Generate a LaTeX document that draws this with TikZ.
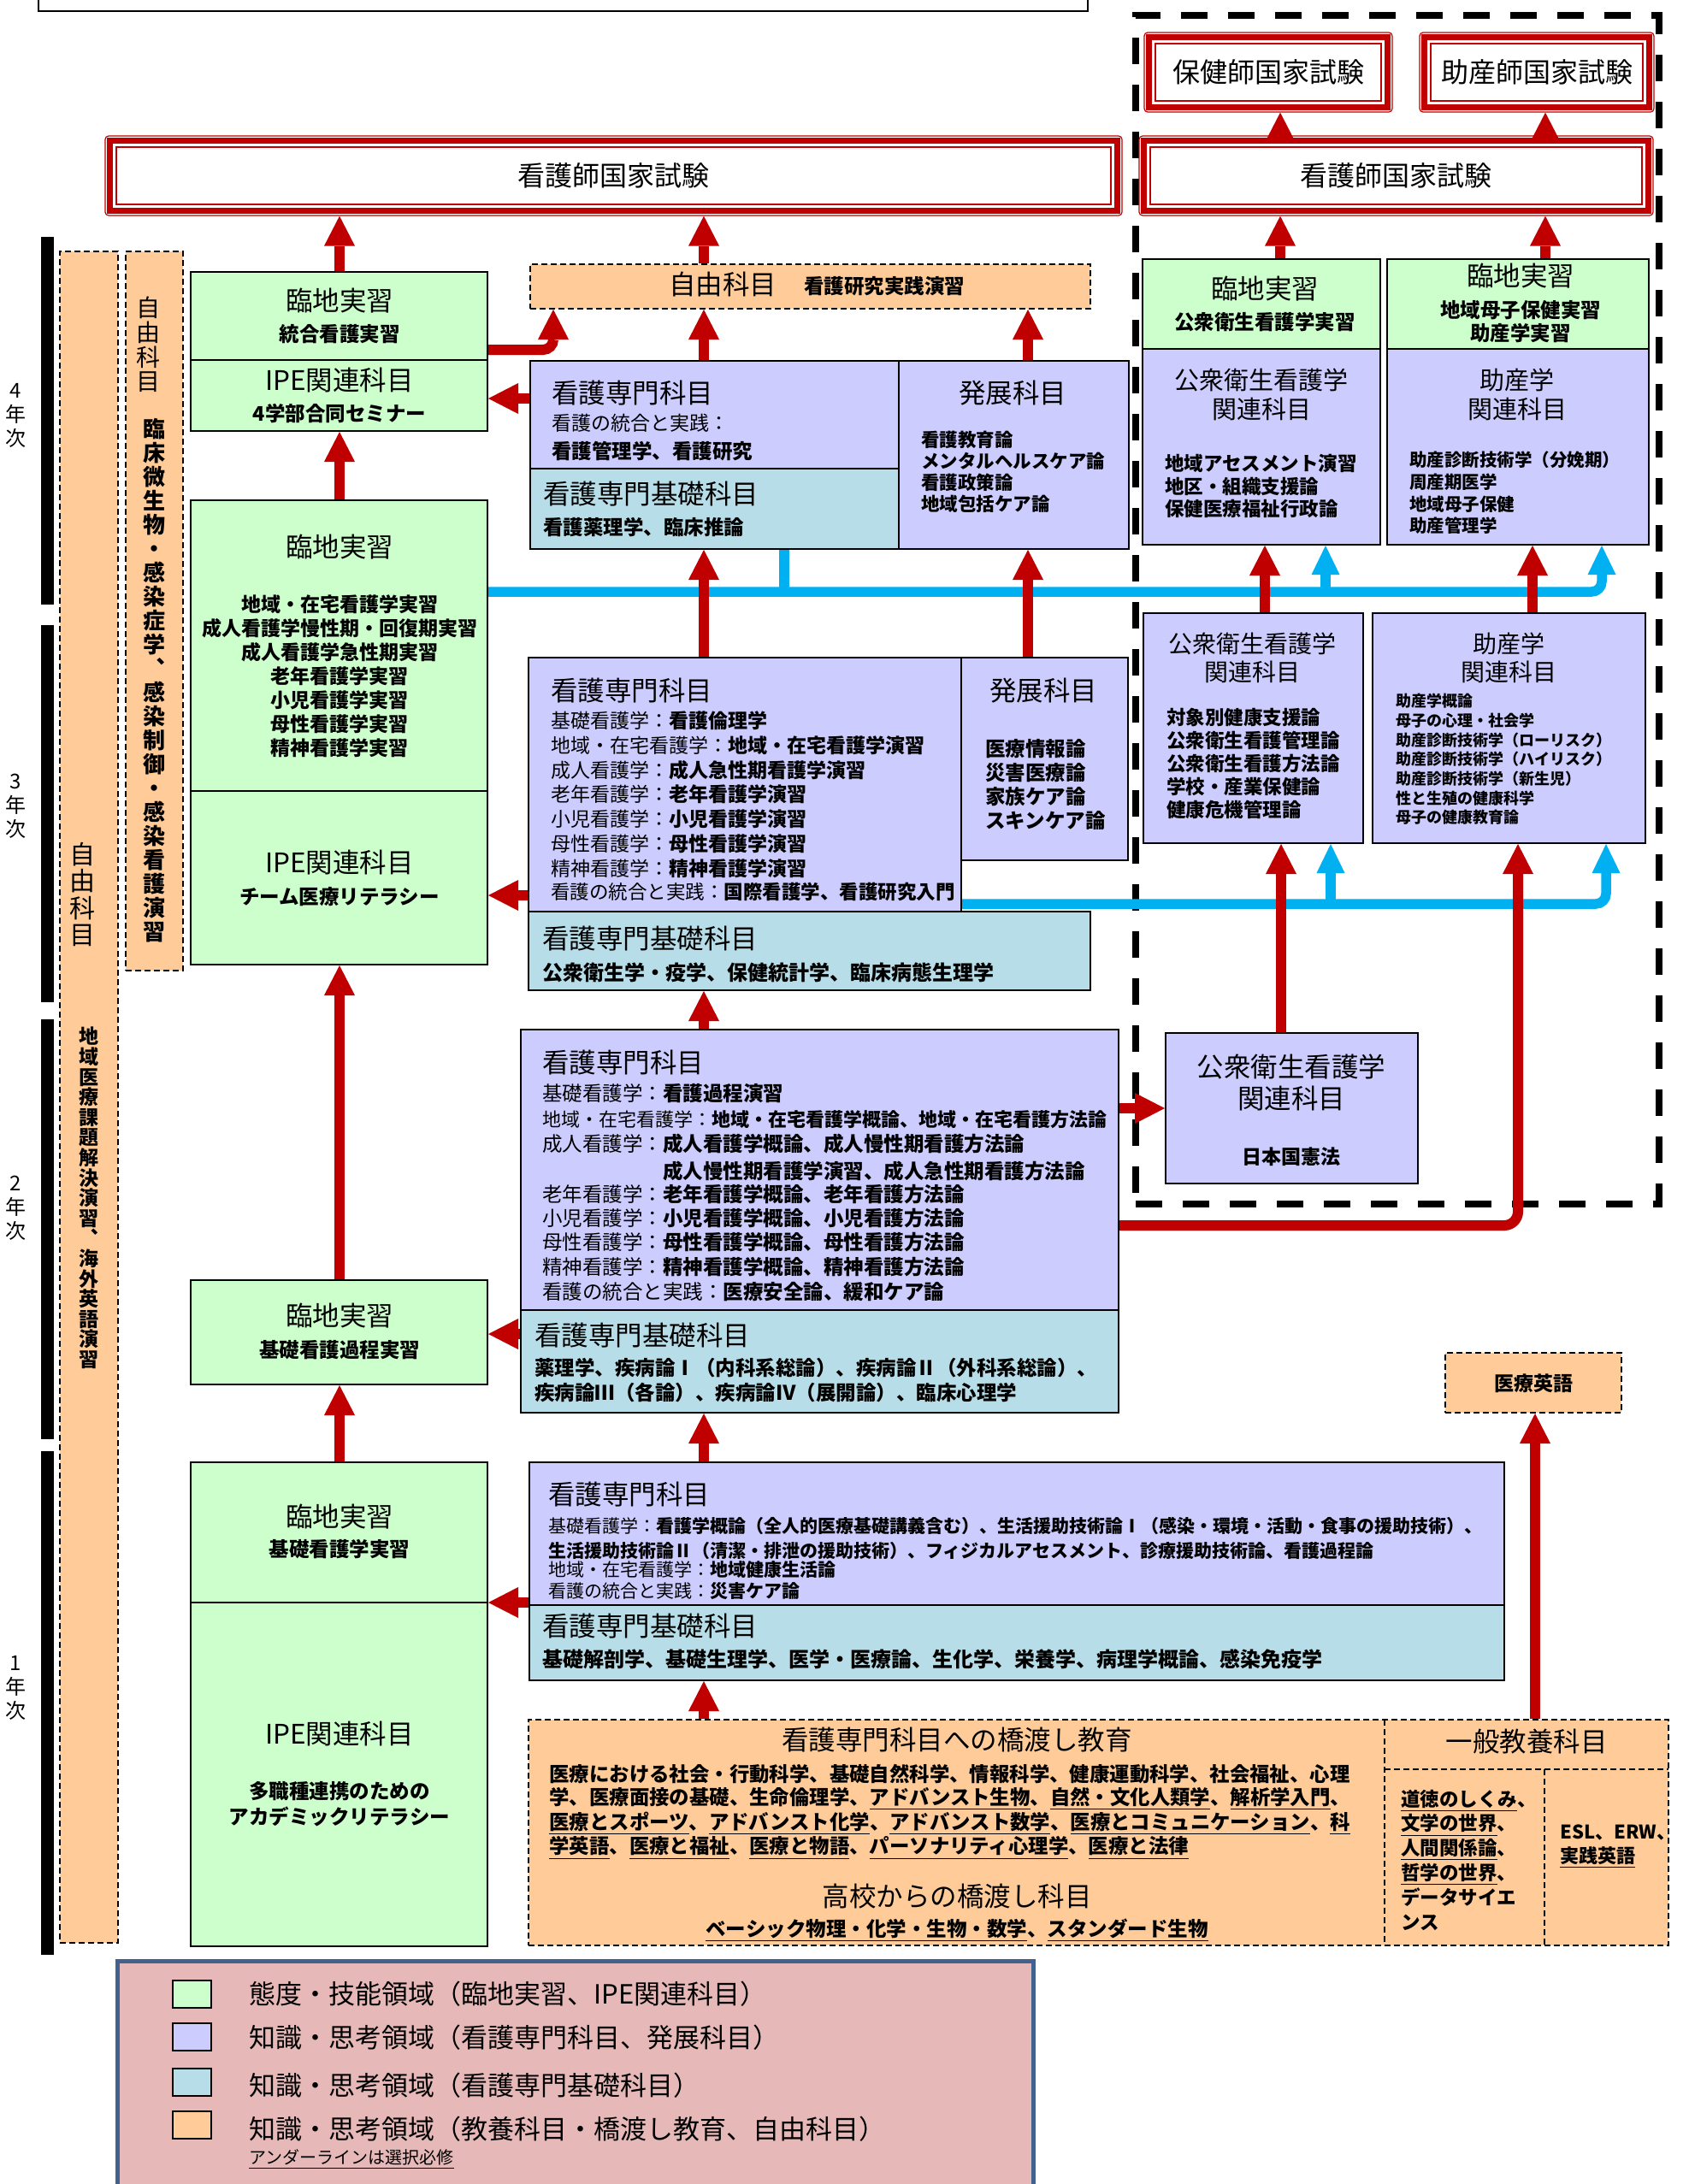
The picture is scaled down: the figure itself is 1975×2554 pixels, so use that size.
\documentclass[tikz,border=0pt]{standalone}
\usepackage{fontspec}
\setmainfont{Noto Sans CJK JP}
\usetikzlibrary{arrows.meta,calc,fit}
\definecolor{cgreen}{HTML}{CCFFCC}
\definecolor{cpurple}{HTML}{CCCCFF}
\definecolor{cteal}{HTML}{B7DEE8}
\definecolor{corange}{HTML}{FFCC99}
\definecolor{cred}{HTML}{C00000}
\definecolor{cblue}{HTML}{00B0F0}
\definecolor{clegbg}{HTML}{E6B9B8}
\definecolor{clegbd}{HTML}{41628F}
\newcommand\fsz[2]{\fontsize{#1}{#2}\selectfont\lineskiplimit=-100pt\relax}
\newcommand\ul[1]{\underline{#1}}
\newcommand\examBox[6]{%
 \node[fit={(#2,#3)(#4,#5)},inner sep=0pt,draw=cred,line width=0.6pt,rounded corners=2pt,fill=white] (#1) {};
 \draw[cred,line width=3.75pt] ($(#1.north west)+(6.25,6.25)$) rectangle ($(#1.south east)+(-6.25,-6.25)$);
 \draw[cred,line width=1pt] ($(#1.north west)+(14,14)$) rectangle ($(#1.south east)+(-14,-14)$);
 \node[exm] (#1t) at (#1.center) {#6};}
\begin{document}
\begin{tikzpicture}[x=0.5pt,y=-0.5pt,
 cbox/.style={draw=black,line width=1pt,inner sep=0pt},
 gbox/.style={cbox,fill=cgreen},
 pbox/.style={cbox,fill=cpurple},
 tbox/.style={cbox,fill=cteal},
 obox/.style={draw=black,line width=1pt,dash pattern=on 3.5pt off 2pt,fill=corange,inner sep=0pt},
 dshl/.style={draw=black,line width=1pt,dash pattern=on 3.5pt off 2pt},
 txt/.style={inner sep=0pt,text=black},
 hdg/.style={txt,font=\fsz{15.75}{18}},
 hdg2/.style={txt,font=\fsz{14.5}{17},align=center},
 exm/.style={txt,font=\fsz{16}{18}},
 sbt/.style={txt,font=\fsz{11.75}{14}\bfseries},
 itm/.style={txt,font=\fsz{11.5}{14},anchor=west},
 lst/.style={txt,anchor=west,align=left},
 rarr/.style={draw=cred,line width=6pt,-{Triangle[length=17.5pt,width=18pt,line width=0pt]}},
 barr/.style={draw=cblue,line width=5.75pt,-{Triangle[length=17pt,width=16.5pt,line width=0pt]}},
 bln/.style={draw=cblue,line width=5.75pt}
]
\useasboundingbox (0,0) rectangle (1975,2554);
\fill[white] (0,0) rectangle (1975,2554);

% top box
\node[draw=black,line width=1pt,fill=white,fit={(45,-30)(1272,13)},inner sep=0pt] (topbox) {};

% dashed zone
\node[draw=black,line width=3.75pt,dash pattern=on 15.5pt off 12pt,fit={(1328,18)(1940,1408)},inner sep=0pt] (dz) {};

% exams
\examBox{e1}{123}{159}{1312}{252}{看護師国家試験}
\examBox{e2}{1332}{159}{1933}{252}{看護師国家試験}
\examBox{e3}{1338}{38}{1628}{131}{保健師国家試験}
\examBox{e4}{1660}{38}{1934}{131}{助産師国家試験}

% year bars
\node[fill=black,fit={(48,277)(63,707)},inner sep=0pt] (y4bar) {};
\node[fill=black,fit={(48,731)(63,1172)},inner sep=0pt] (y3bar) {};
\node[fill=black,fit={(48,1192)(63,1683)},inner sep=0pt] (y2bar) {};
\node[fill=black,fit={(48,1697)(63,2286)},inner sep=0pt] (y1bar) {};
\node[txt,font=\fsz{12}{14},align=center] (y4) at (18,486) {4\\年\\次};
\node[txt,font=\fsz{12}{14},align=center] (y3) at (18,943) {3\\年\\次};
\node[txt,font=\fsz{12}{14},align=center] (y2) at (18,1413) {2\\年\\次};
\node[txt,font=\fsz{12}{14},align=center] (y1) at (18,1974) {1\\年\\次};

% left dashed columns
\node[obox,fit={(70,294)(138,2272)}] (c1) {};
\node[obox,fit={(147,294)(214,1135)}] (c2) {};
\node[txt,font=\fsz{15}{15.65},align=center] (c1a) at (96,1046) {自\\由\\科\\目};
\node[txt,font=\fsz{11.5}{11.8}\bfseries,align=center] (c1b) at (104,1401) {地\\域\\医\\療\\課\\題\\解\\決\\演\\習\\︑\\海\\外\\英\\語\\演\\習};
\node[txt,font=\fsz{14}{14.35},align=center] (c2a) at (173,403) {自\\由\\科\\目};
\node[txt,font=\fsz{13}{14}\bfseries,align=center] (c2b) at (180,796) {臨\\床\\微\\生\\物\\・\\感\\染\\症\\学\\︑\\感\\染\\制\\御\\・\\感\\染\\看\\護\\演\\習};

% green boxes
\node[gbox,fit={(223,318)(570,421)}] (g4a) {};
\node[gbox,fit={(223,421)(570,504)}] (g4b) {};
\node[gbox,fit={(223,585)(570,925)}] (g3a) {};
\node[gbox,fit={(223,925)(570,1128)}] (g3b) {};
\node[gbox,fit={(223,1497)(570,1619)}] (g2) {};
\node[gbox,fit={(223,1710)(570,1874)}] (g1a) {};
\node[gbox,fit={(223,1874)(570,2276)}] (g1b) {};

% middle boxes
\node[obox,fit={(620,309)(1275,361)}] (f4) {};
\node[pbox,fit={(620,422)(1051,548)}] (k4) {};
\node[tbox,fit={(620,548)(1051,642)}] (b4) {};
\node[pbox,fit={(1051,422)(1320,642)}] (h4) {};
\node[pbox,fit={(618,769)(1124,1066)}] (k3) {};
\node[pbox,fit={(1124,769)(1319,1006)}] (h3) {};
\node[tbox,fit={(618,1066)(1275,1158)}] (b3) {};
\node[pbox,fit={(609,1204)(1308,1532)}] (k2) {};
\node[tbox,fit={(609,1532)(1308,1652)}] (b2) {};
\node[pbox,fit={(619,1710)(1759,1877)}] (k1) {};
\node[tbox,fit={(619,1877)(1759,1965)}] (b1) {};

% right boxes
\node[gbox,fit={(1336,303)(1614,408)}] (p4a) {};
\node[pbox,fit={(1336,408)(1614,637)}] (p4b) {};
\node[gbox,fit={(1622,303)(1928,408)}] (m4a) {};
\node[pbox,fit={(1622,408)(1928,637)}] (m4b) {};
\node[pbox,fit={(1337,717)(1594,986)}] (p3) {};
\node[pbox,fit={(1605,717)(1924,986)}] (m3) {};
\node[pbox,fit={(1363,1208)(1658,1384)}] (p2) {};
\node[obox,fit={(1690,1582)(1896,1652)}] (en) {};

% bridge
\node[obox,fit={(618,2011)(1951,2275)}] (br) {};
\draw[dshl] (1619,2011) -- (1619,2275);
\draw[dshl] (1619,2069) -- (1951,2069);
\draw[dshl] (1806,2069) -- (1806,2275);

% legend
\node[draw=clegbd,line width=2.5pt,fill=clegbg,fit={(137,2293)(1208,2620)},inner sep=0pt] (leg) {};
\node[draw=black,line width=1pt,fill=cgreen,fit={(202,2316)(247,2348)},inner sep=0pt] (sw1) {};
\node[draw=black,line width=1pt,fill=cpurple,fit={(202,2366)(247,2398)},inner sep=0pt] (sw2) {};
\node[draw=black,line width=1pt,fill=cteal,fit={(202,2419)(247,2451)},inner sep=0pt] (sw3) {};
\node[draw=black,line width=1pt,fill=corange,fit={(202,2469)(247,2501)},inner sep=0pt] (sw4) {};

% coordinates for connectors
\coordinate (xL) at (397,0);
\coordinate (xM) at (823,0);
\coordinate (xH) at (1202,0);
\coordinate (xE) at (647,0);
\coordinate (xP) at (1497,0);
\coordinate (xQ) at (1807,0);
\coordinate (xP2) at (1479,0);
\coordinate (xQ2) at (1792,0);
\coordinate (xP3) at (1498,0);
\coordinate (xQ3) at (1775,0);
\coordinate (xEN) at (1795,0);
\coordinate (xB0) at (917,0);
\coordinate (xB1) at (1550,0);
\coordinate (xB2) at (1873,0);
\coordinate (xB3) at (1556,0);
\coordinate (xB4) at (1878,0);
\coordinate (yA) at (0,409);
\coordinate (yB) at (0,692);
\coordinate (yC) at (0,1057);
\coordinate (yD) at (0,1433);
\coordinate (yE) at (0,466);
\coordinate (yF) at (0,1047);
\coordinate (yG) at (0,1560);
\coordinate (yH) at (0,1874);
\coordinate (yI) at (0,1296);

% blue connectors
\draw[bln] (b4.south -| xB0) -- (xB0 |- yB);
\draw[barr,rounded corners=6pt] (g3a.east |- yB) -- (xB2 |- yB) -- (m4b.south -| xB2);
\draw[barr] (xB1 |- yB) -- (p4b.south -| xB1);
\draw[barr,rounded corners=6pt] (k3.east |- yC) -- (xB4 |- yC) -- (m3.south -| xB4);
\draw[barr] (xB3 |- yC) -- (p3.south -| xB3);

% red connectors
\draw[rarr] (e2.north -| xP) -- (e3.south -| xP);
\draw[rarr] (e2.north -| xQ) -- (e4.south -| xQ);
\draw[rarr] (p4a.north -| xP) -- (e2.south -| xP);
\draw[rarr] (m4a.north -| xQ) -- (e2.south -| xQ);
\draw[rarr] (g4a.north -| xL) -- (e1.south -| xL);
\draw[rarr] (f4.north -| xM) -- (e1.south -| xM);
\draw[rarr] (k4.north -| xM) -- (f4.south -| xM);
\draw[rarr] (h4.north -| xH) -- (f4.south -| xH);
\draw[rarr,rounded corners=6pt] (g4a.east |- yA) -- (xE |- yA) -- (f4.south -| xE);
\draw[rarr] (g3a.north -| xL) -- (g4b.south -| xL);
\draw[rarr] (k4.west |- yE) -- (g4b.east |- yE);
\draw[rarr] (k3.north -| xM) -- (b4.south -| xM);
\draw[rarr] (h3.north -| xH) -- (h4.south -| xH);
\draw[rarr] (p3.north -| xP2) -- (p4b.south -| xP2);
\draw[rarr] (m3.north -| xQ2) -- (m4b.south -| xQ2);
\draw[rarr] (k3.west |- yF) -- (g3b.east |- yF);
\draw[rarr] (g2.north -| xL) -- (g3b.south -| xL);
\draw[rarr] (k2.north -| xM) -- (b3.south -| xM);
\draw[rarr] (k2.east |- yI) -- (p2.west |- yI);
\draw[rarr] (p2.north -| xP3) -- (p3.south -| xP3);
\draw[rarr,rounded corners=8pt] (k2.east |- yD) -- (xQ3 |- yD) -- (m3.south -| xQ3);
\draw[rarr] (b2.west |- yG) -- (g2.east |- yG);
\draw[rarr] (g1a.north -| xL) -- (g2.south -| xL);
\draw[rarr] (k1.north -| xM) -- (b2.south -| xM);
\draw[rarr] (b1.west |- yH) -- (g1a.east |- yH);
\draw[rarr] (br.north -| xM) -- (b1.south -| xM);
\draw[rarr] (br.north -| xEN) -- (en.south -| xEN);

% ---- texts: green boxes
\node[hdg] (g4at) at (397,352) {臨地実習};
\node[sbt] (g4as) at (397,391) {統合看護実習};
\node[hdg] (g4bt) at (397,445) {IPE関連科目};
\node[sbt] (g4bs) at (397,484) {4学部合同セミナー};
\node[hdg] (g3at) at (397,640) {臨地実習};
\node[txt,align=center,font=\fsz{11.5}{14}\bfseries] (g3as) at (397,791) {地域・在宅看護学実習\\成人看護学慢性期・回復期実習\\成人看護学急性期実習\\老年看護学実習\\小児看護学実習\\母性看護学実習\\精神看護学実習};
\node[hdg] (g3bt) at (397,1009) {IPE関連科目};
\node[sbt] (g3bs) at (397,1049) {チーム医療リテラシー};
\node[hdg] (g2t) at (397,1539) {臨地実習};
\node[sbt] (g2s) at (397,1579) {基礎看護過程実習};
\node[hdg] (g1at) at (397,1774) {臨地実習};
\node[sbt] (g1as) at (397,1812) {基礎看護学実習};
\node[hdg] (g1bt) at (397,2028) {IPE関連科目};
\node[txt,align=center,font=\fsz{11.75}{15}\bfseries] (g1bs) at (397,2110) {多職種連携のための\\アカデミックリテラシー};

% ---- 4th year middle
\node[hdg,anchor=west] (f4t) at (782,333) {自由科目};
\node[sbt,anchor=west] (f4s) at (940,335) {看護研究実践演習};
\node[hdg,anchor=west] (k4t) at (645,460) {看護専門科目};
\node[itm] (k4a) at (645,495) {看護の統合と実践：};
\node[itm,font=\fsz{11.75}{14}\bfseries] (k4b) at (645,528) {看護管理学、看護研究};
\node[hdg,anchor=west] (b4t) at (635,578) {看護専門基礎科目};
\node[itm,font=\fsz{11.75}{14}\bfseries] (b4a) at (635,617) {看護薬理学、臨床推論};
\node[hdg] (h4t) at (1184,460) {発展科目};
\node[lst,font=\fsz{10.75}{12.5}\bfseries] (h4a) at (1077,552) {看護教育論\\メンタルヘルスケア論\\看護政策論\\地域包括ケア論};

% ---- 3rd year middle
\node[hdg,anchor=west] (k3t) at (644,808) {看護専門科目};
\node[itm] (k3a) at (644,843) {基礎看護学：\textbf{看護倫理学}};
\node[itm] (k3b) at (644,872) {地域・在宅看護学：\textbf{地域・在宅看護学演習}};
\node[itm] (k3c) at (644,901) {成人看護学：\textbf{成人急性期看護学演習}};
\node[itm] (k3d) at (644,929) {老年看護学：\textbf{老年看護学演習}};
\node[itm] (k3e) at (644,958) {小児看護学：\textbf{小児看護学演習}};
\node[itm] (k3f) at (644,987) {母性看護学：\textbf{母性看護学演習}};
\node[itm] (k3g) at (644,1016) {精神看護学：\textbf{精神看護学演習}};
\node[itm,font=\fsz{11.25}{14}] (k3h) at (644,1043) {看護の統合と実践：\textbf{国際看護学、看護研究入門}};
\node[hdg] (h3t) at (1220,808) {発展科目};
\node[lst,font=\fsz{11.75}{14.15}\bfseries] (h3a) at (1152,917.5) {医療情報論\\災害医療論\\家族ケア論\\スキンケア論};
\node[hdg,anchor=west] (b3t) at (634,1098) {看護専門基礎科目};
\node[itm,font=\fsz{12}{14}\bfseries] (b3a) at (634,1137) {公衆衛生学・疫学、保健統計学、臨床病態生理学};

% ---- 2nd year middle
\node[hdg,anchor=west] (k2t) at (634,1243) {看護専門科目};
\node[itm,font=\fsz{11.75}{14}] (k2a) at (634,1279) {基礎看護学：\textbf{看護過程演習}};
\node[itm,font=\fsz{11}{14}] (k2b) at (634,1309) {地域・在宅看護学：\textbf{地域・在宅看護学概論、地域・在宅看護方法論}};
\node[itm,font=\fsz{11.75}{14}] (k2c) at (634,1338) {成人看護学：\textbf{成人看護学概論、成人慢性期看護方法論}};
\node[itm,font=\fsz{11.75}{14}] (k2d) at (634,1370) {\phantom{成人看護学：}\textbf{成人慢性期看護学演習、成人急性期看護方法論}};
\node[itm,font=\fsz{11.75}{14}] (k2e) at (634,1397) {老年看護学：\textbf{老年看護学概論、老年看護方法論}};
\node[itm,font=\fsz{11.75}{14}] (k2f) at (634,1425) {小児看護学：\textbf{小児看護学概論、小児看護方法論}};
\node[itm,font=\fsz{11.75}{14}] (k2g) at (634,1453) {母性看護学：\textbf{母性看護学概論、母性看護方法論}};
\node[itm,font=\fsz{11.75}{14}] (k2h) at (634,1482) {精神看護学：\textbf{精神看護学概論、精神看護方法論}};
\node[itm,font=\fsz{11.75}{14}] (k2i) at (634,1511) {看護の統合と実践：\textbf{医療安全論、緩和ケア論}};
\node[hdg,anchor=west] (b2t) at (625,1562) {看護専門基礎科目};
\node[itm,font=\fsz{11.75}{14}\bfseries] (b2a) at (625,1600) {薬理学、疾病論Ⅰ（内科系総論）、疾病論Ⅱ（外科系総論）、};
\node[itm,font=\fsz{11.75}{14}\bfseries] (b2b) at (625,1629) {疾病論Ⅲ（各論）、疾病論Ⅳ（展開論）、臨床心理学};

% ---- 1st year middle
\node[hdg,anchor=west] (k1t) at (641,1748) {看護専門科目};
\node[itm,font=\fsz{10.5}{13}] (k1a) at (641,1784) {基礎看護学：\textbf{看護学概論（全人的医療基礎講義含む）、生活援助技術論Ⅰ（感染・環境・活動・食事の援助技術）、}};
\node[itm,font=\fsz{10.5}{13}\bfseries] (k1b) at (641,1813) {生活援助技術論Ⅱ（清潔・排泄の援助技術）、フィジカルアセスメント、診療援助技術論、看護過程論};
\node[itm,font=\fsz{10.5}{13}] (k1c) at (641,1836) {地域・在宅看護学：\textbf{地域健康生活論}};
\node[itm,font=\fsz{10.5}{13}] (k1d) at (641,1861) {看護の統合と実践：\textbf{災害ケア論}};
\node[hdg,anchor=west] (b1t) at (634,1902) {看護専門基礎科目};
\node[itm,font=\fsz{12}{14}\bfseries] (b1a) at (634,1940) {基礎解剖学、基礎生理学、医学・医療論、生化学、栄養学、病理学概論、感染免疫学};

% ---- right boxes texts
\node[hdg] (p4at) at (1479,338) {臨地実習};
\node[sbt] (p4as) at (1479,377) {公衆衛生看護学実習};
\node[hdg] (m4at) at (1778,323) {臨地実習};
\node[txt,align=center,font=\fsz{11.75}{13.5}\bfseries] (m4as) at (1778,376.5) {地域母子保健実習\\助産学実習};
\node[hdg2] (p4bt) at (1475,461) {公衆衛生看護学\\関連科目};
\node[lst,font=\fsz{11.25}{13.25}\bfseries] (p4ba) at (1362,568.5) {地域アセスメント演習\\地区・組織支援論\\保健医療福祉行政論};
\node[hdg2] (m4bt) at (1774,461) {助産学\\関連科目};
\node[lst,font=\fsz{10.25}{12.85}\bfseries] (m4ba) at (1648,576.5) {助産診断技術学（分娩期）\\周産期医学\\地域母子保健\\助産管理学};
\node[hdg2,font=\fsz{14}{16.5}] (p3t) at (1464,769.5) {公衆衛生看護学\\関連科目};
\node[lst,font=\fsz{11.25}{13.5}\bfseries] (p3a) at (1364,893) {対象別健康支援論\\公衆衛生看護管理論\\公衆衛生看護方法論\\学校・産業保健論\\健康危機管理論};
\node[hdg2,font=\fsz{14}{16.5}] (m3t) at (1764,769.5) {助産学\\関連科目};
\node[lst,font=\fsz{9}{11.35}\bfseries] (m3a) at (1632,888) {助産学概論\\母子の心理・社会学\\助産診断技術学（ローリスク）\\助産診断技術学（ハイリスク）\\助産診断技術学（新生児）\\性と生殖の健康科学\\母子の健康教育論};
\node[hdg2,font=\fsz{15.75}{18.5}] (p2t) at (1510,1265.5) {公衆衛生看護学\\関連科目};
\node[sbt,font=\fsz{11.5}{14}\bfseries] (p2s) at (1510,1353) {日本国憲法};
\node[sbt,font=\fsz{11.5}{14}\bfseries] (ent) at (1793,1618) {医療英語};

% ---- bridge texts
\node[hdg] (brt) at (1119,2035) {看護専門科目への橋渡し教育};
\node[itm,font=\fsz{11.7}{14}\bfseries] (bra) at (642,2075) {医療における社会・行動科学、基礎自然科学、情報科学、健康運動科学、社会福祉、心理};
\node[itm,font=\fsz{11.7}{14}\bfseries] (brb) at (642,2103) {学、医療面接の基礎、生命倫理学、\ul{アドバンスト生物}、\ul{自然・文化人類学}、\ul{解析学入門}、};
\node[itm,font=\fsz{11.7}{14}\bfseries] (brc) at (642,2132) {\ul{医療とスポーツ}、\ul{アドバンスト化学}、\ul{アドバンスト数学}、\ul{医療とコミュニケーション}、\ul{科}};
\node[itm,font=\fsz{11.7}{14}\bfseries] (brd) at (642,2161) {\ul{学英語}、\ul{医療と福祉}、\ul{医療と物語}、\ul{パーソナリティ心理学}、\ul{医療と法律}};
\node[hdg] (brh) at (1119,2218) {高校からの橋渡し科目};
\node[sbt] (brh2) at (1119,2257) {\ul{ベーシック物理・化学・生物・数学}、\ul{スタンダード生物}};
\node[hdg] (gen) at (1785,2037) {一般教養科目};
\node[lst,font=\fsz{11.25}{14.4}\bfseries] (gen1) at (1638,2175) {\ul{道徳のしくみ}、\\\ul{文学の世界}、\\\ul{人間関係論}、\\\ul{哲学の世界}、\\データサイエ\\ンス};
\node[lst,font=\fsz{11}{14}\bfseries] (gen2) at (1824,2159) {ESL、ERW、\\\ul{実践英語}};

% ---- legend texts
\node[txt,anchor=west,font=\fsz{15.5}{18}] (lt1) at (291,2332) {態度・技能領域（臨地実習、IPE関連科目）};
\node[txt,anchor=west,font=\fsz{15.5}{18}] (lt2) at (291,2383) {知識・思考領域（看護専門科目、発展科目）};
\node[txt,anchor=west,font=\fsz{15.5}{18}] (lt3) at (291,2439) {知識・思考領域（看護専門基礎科目）};
\node[txt,anchor=west,font=\fsz{15.5}{18}] (lt4) at (291,2490) {知識・思考領域（教養科目・橋渡し教育、自由科目）};
\node[txt,anchor=west,font=\fsz{10}{12}] (lt5) at (291,2525) {\ul{アンダーラインは選択必修}};
\end{tikzpicture}
\end{document}
